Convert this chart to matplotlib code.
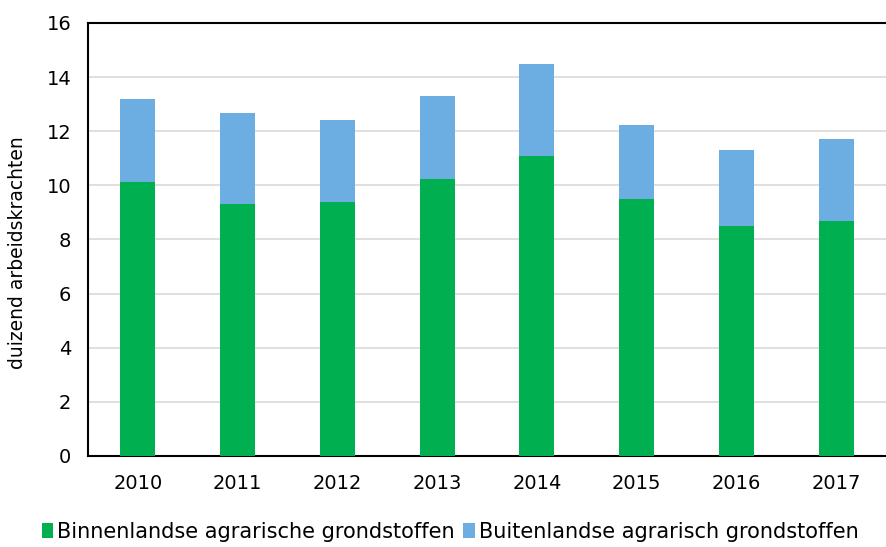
import matplotlib.pyplot as plt
import numpy as np

years = ['2010', '2011', '2012', '2013', '2014', '2015', '2016', '2017']
binnen = [10.12, 9.31, 9.39, 10.24, 11.09, 9.50, 8.50, 8.68]
totaal = [13.19, 12.68, 12.42, 13.30, 14.49, 12.23, 11.31, 11.71]
buiten = [t - b for t, b in zip(totaal, binnen)]

plt.rcParams['font.family'] = ['DejaVu Sans']

fig = plt.figure(figsize=(8.86, 5.47), dpi=100)
ax = fig.add_axes([0.0993, 0.1664, 0.9007, 0.7916])

x = np.arange(len(years))
ax.bar(x, binnen, width=0.35, color='#00b050', label='Binnenlandse agrarische grondstoffen', zorder=3)
ax.bar(x, buiten, width=0.35, bottom=binnen, color='#6daee2', label='Buitenlandse agrarisch grondstoffen', zorder=3)

ax.set_xlim(-0.5, len(years) - 0.5)
ax.set_ylim(0, 16)
ax.set_yticks(range(0, 17, 2))
ax.set_xticks(x)
ax.set_xticklabels(years)
ax.tick_params(axis='both', length=0, labelsize=14)
ax.tick_params(axis='x', pad=13)
ax.tick_params(axis='y', pad=12)
ax.yaxis.grid(True, color='#d9d9d9', linewidth=1.2, zorder=0)
for s in ['left', 'bottom', 'top']:
    ax.spines[s].set_color('black')
    ax.spines[s].set_linewidth(1.5)
ax.spines['right'].set_visible(False)
ax.set_ylabel('duizend arbeidskrachten', fontsize=13.5)
ax.yaxis.set_label_coords(-0.076, 0.47)

fig.legend(loc='lower center', bbox_to_anchor=(0.508, -0.025), ncol=2, frameon=False,
           fontsize=15, handlelength=0.55, handleheight=0.7, handletextpad=0.2,
           columnspacing=0.4)

fig.savefig('out.png', dpi=100)
